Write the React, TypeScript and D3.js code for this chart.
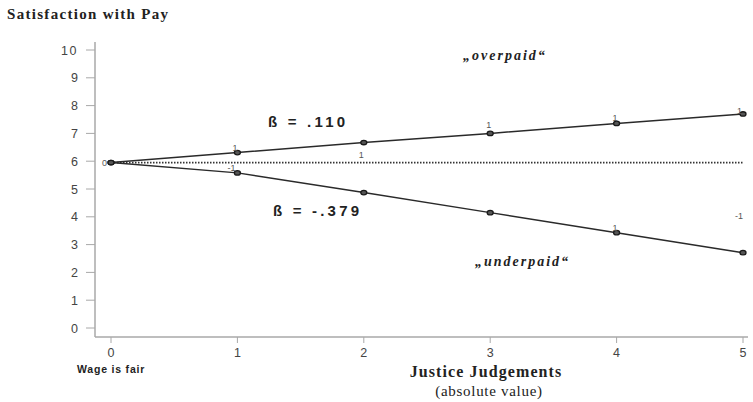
import React from 'react';
import * as d3 from 'd3';

// Justice judgements (absolute value) on the x axis
const judgements = [0, 1, 2, 3, 4, 5];
const overpaid = [5.95, 6.31, 6.67, 7.0, 7.36, 7.7];
const underpaid = [5.95, 5.58, 4.87, 4.15, 3.43, 2.71];
const fairLevel = 5.95;
const yTicks = [0, 1, 2, 3, 4, 5, 6, 7, 8, 9, 10];

// tiny point labels found next to the markers
const pointLabels = [
  { x: 0, y: 5.95, text: '0', dx: -9, dy: 3 },
  { x: 1, y: 6.31, text: '1', dx: -5, dy: -2 },
  { x: 1, y: 5.58, text: '-1', dx: -10, dy: -2 },
  { x: 2, y: 5.95, text: '1', dx: -5, dy: -5 },
  { x: 3, y: 7.0, text: '1', dx: -4, dy: -5 },
  { x: 4, y: 7.36, text: '1', dx: -4, dy: -2 },
  { x: 4, y: 3.43, text: '1', dx: -4, dy: -2 },
  { x: 5, y: 7.7, text: '1', dx: -6, dy: 0 },
  { x: 5, y: 4.0, text: '-1', dx: -8, dy: 2 },
];

const W = 753;
const H = 402;

const App = () => {
  const x = d3.scaleLinear().domain([0, 5]).range([111, 743]);
  const y = d3.scaleLinear().domain([0, 10]).range([328, 50]);

  const line = d3.line<number>()
    .x((_, i) => x(judgements[i]))
    .y(d => y(d));

  const axisColor = '#a8a8a8';
  const sans = 'Arial, "Liberation Sans", sans-serif';
  const serif = '"Times New Roman", "Liberation Serif", serif';

  return (
    <svg width={W} height={H} style={{ position: 'absolute', left: 0, top: 0, background: '#fff' }}>
      {/* title */}
      <text x={7} y={19} fontFamily={serif} fontWeight="bold" fontSize={15} letterSpacing={1.3} fill="#222">
        Satisfaction with Pay
      </text>

      {/* y axis */}
      <line x1={95} x2={95} y1={42} y2={337} stroke={axisColor} strokeWidth={1.5} />
      {yTicks.map(t => (
        <g key={t}>
          <line x1={86} x2={95} y1={y(t)} y2={y(t)} stroke={axisColor} strokeWidth={1} />
          <text x={78} y={y(t)} dy="0.36em" textAnchor="end" fontFamily={sans} fontSize={12.5}
            letterSpacing={t === 10 ? 1.5 : 0} fill="#444">
            {t}
          </text>
        </g>
      ))}

      {/* x axis */}
      <line x1={95} x2={748} y1={337} y2={337} stroke={axisColor} strokeWidth={1.5} />
      {judgements.map(j => (
        <g key={j}>
          <line x1={x(j)} x2={x(j)} y1={337} y2={343} stroke={axisColor} strokeWidth={1} />
          <text x={x(j)} y={357} textAnchor="middle" fontFamily={sans} fontSize={12.5} fill="#444">
            {j}
          </text>
        </g>
      ))}
      <text x={77} y={373} fontFamily={sans} fontWeight="bold" fontSize={10.5} letterSpacing={0.8} fill="#222">
        Wage is fair
      </text>
      <text x={486} y={377} textAnchor="middle" fontFamily={serif} fontWeight="bold" fontSize={16} letterSpacing={1.1} fill="#222">
        Justice Judgements
      </text>
      <text x={489} y={396} textAnchor="middle" fontFamily={serif} fontSize={15} letterSpacing={0.7} fill="#222">
        (absolute value)
      </text>

      {/* fair wage reference */}
      <line x1={x(0)} x2={x(5)} y1={y(fairLevel)} y2={y(fairLevel)}
        stroke="#333" strokeWidth={1.7} strokeDasharray="1.5,1.5" />

      {/* regression lines */}
      {[overpaid, underpaid].map((s, k) => (
        <g key={k}>
          <path d={line(s) || ''} fill="none" stroke="#2a2a2a" strokeWidth={1.5} />
          {s.map((v, i) => (
            <ellipse key={i} cx={x(judgements[i])} cy={y(v)} rx={3} ry={2.2}
              fill="#555" stroke="#1a1a1a" strokeWidth={1.3} />
          ))}
        </g>
      ))}

      {pointLabels.map((p, i) => (
        <text key={i} x={x(p.x) + p.dx} y={y(p.y) + p.dy} fontFamily={sans} fontSize={9} fill="#555">
          {p.text}
        </text>
      ))}

      {/* annotations */}
      <text x={268} y={127} fontFamily={sans} fontWeight="bold" fontSize={15} letterSpacing={3.2} fill="#222">
        ß =  .110
      </text>
      <text x={273} y={216} fontFamily={sans} fontWeight="bold" fontSize={15} letterSpacing={3.2} fill="#222">
        ß =  -.379
      </text>
      <text x={463} y={60} fontFamily={serif} fontWeight="bold" fontStyle="italic" fontSize={14} letterSpacing={2} fill="#222">
        „overpaid“
      </text>
      <text x={475} y={266} fontFamily={serif} fontWeight="bold" fontStyle="italic" fontSize={14} letterSpacing={2} fill="#222">
        „underpaid“
      </text>
    </svg>
  );
};

export default App;
